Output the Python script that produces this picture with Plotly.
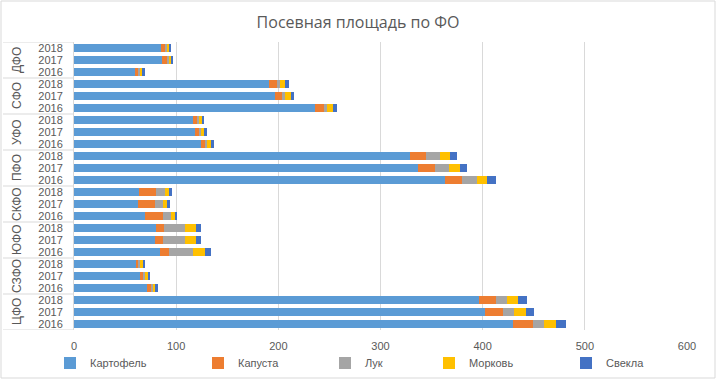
import plotly.graph_objects as go

# Data (bottom-up order as drawn by the category axis)
regions = ["ЦФО", "СЗФО", "ЮФО", "СКФО", "ПФО", "УФО", "СФО", "ДФО"]
years = ["2016", "2017", "2018"]

kartofel = [430.0, 402.4, 396.0, 71.8, 64.3, 60.4, 84.0, 79.2, 80.2, 69.4, 62.3, 63.6,
            363.5, 336.6, 328.8, 124.6, 118.1, 116.5, 235.6, 196.4, 191.2, 60.1, 85.7, 84.7]
kapusta = [18.8, 17.9, 16.9, 4.2, 3.9, 2.9, 8.8, 7.8, 7.4, 17.6, 17.2, 16.6,
           16.6, 16.5, 15.9, 4.2, 4.3, 4.2, 8.8, 7.4, 7.1, 3.5, 6.1, 4.9]
luk = [11.4, 10.7, 10.7, 1.2, 1.2, 1.6, 24.0, 22.1, 21.5, 7.7, 7.5, 8.4,
       14.3, 14.0, 13.6, 1.7, 1.6, 1.7, 2.9, 2.3, 3.3, 1.0, 1.0, 1.3]
morkov = [12.0, 11.4, 10.8, 2.3, 2.9, 2.6, 11.1, 10.4, 10.4, 3.9, 4.2, 4.2,
          10.0, 10.4, 9.8, 3.9, 3.9, 2.5, 6.5, 6.2, 4.8, 2.3, 2.3, 2.6]
svekla = [9.1, 8.1, 9.0, 2.3, 2.3, 2.3, 6.5, 5.1, 5.1, 2.7, 2.6, 2.9,
          8.4, 7.4, 7.1, 2.6, 1.9, 2.4, 3.6, 3.2, 3.6, 2.2, 1.9, 1.6]

series_names = ["Картофель", "Капуста", "Лук", "Морковь", "Свекла"]
series_values = [kartofel, kapusta, luk, morkov, svekla]
colors = ["#5B9BD5", "#ED7D31", "#A5A5A5", "#FFC000", "#4472C4"]

cats = [f"{r} {y}" for r in regions for y in years]
ticktext = [y for r in regions for y in years]

W, H = 716, 379
ml, mr, mt, mb = 74, 29, 42, 49
pw = W - ml - mr
ph = H - mt - mb

font_fam = "Liberation Sans, Arial, sans-serif"
text_col = "#595959"
line_col = "#D9D9D9"

# where each legend entry's text starts (px from the left of the chart)
legend_text_px = [89, 237, 364, 468, 605]
legend_names = ["legend", "legend2", "legend3", "legend4", "legend5"]

fig = go.Figure()
for name, vals, col, lg in zip(series_names, series_values, colors, legend_names):
    fig.add_trace(go.Bar(y=cats, x=vals, name=name, orientation="h", legend=lg,
                         showlegend=True,
                         marker=dict(color=col, line=dict(width=0))))

shapes = []
# group separators in the category label area
for i in range(len(regions) + 1):
    yb = i * len(years) - 0.5
    shapes.append(dict(type="line", xref="paper", yref="y",
                       x0=-(ml - 3) / pw, x1=0, y0=yb, y1=yb,
                       line=dict(color=line_col, width=1)))
# chart border
shapes.append(dict(type="rect", xref="paper", yref="paper",
                   x0=-(ml - 1) / pw, x1=1 + (mr - 1) / pw,
                   y0=-(mb - 1) / ph, y1=1 + (mt - 1) / ph,
                   line=dict(color=line_col, width=1)))

annotations = []
for i, r in enumerate(regions):
    annotations.append(dict(text=r, xref="paper", yref="y",
                            x=-(ml - 17) / pw, y=cats[i * 3 + 1],
                            showarrow=False, textangle=-90,
                            font=dict(family=font_fam, size=12, color=text_col),
                            xanchor="center", yanchor="middle"))

legend_layout = {}
for lg, tx in zip(legend_names, legend_text_px):
    legend_layout[lg] = dict(orientation="h", xref="container", x=(tx - 39) / W,
                             xanchor="left", yref="container", y=(H - 363) / H,
                             yanchor="middle", bgcolor="rgba(0,0,0,0)",
                             font=dict(family=font_fam, size=11, color=text_col))

fig.update_layout(
    width=W, height=H,
    margin=dict(l=ml, r=mr, t=mt, b=mb, autoexpand=False),
    paper_bgcolor="white", plot_bgcolor="white",
    barmode="stack", bargap=0.3, showlegend=True,
    title=dict(text="Посевная площадь по ФО", x=0.5, xref="container", xanchor="center",
               y=1 - 22 / H, yanchor="middle",
               font=dict(family="Open Sans, sans-serif", size=16, color=text_col)),
    xaxis=dict(range=[0, 600], dtick=100, showgrid=True, gridcolor=line_col, gridwidth=1,
               zeroline=False, showline=False, ticks="", automargin=False,
               ticklabelstandoff=8,
               tickfont=dict(family=font_fam, size=11, color=text_col)),
    yaxis=dict(type="category", categoryorder="array", categoryarray=cats,
               tickvals=cats, ticktext=ticktext, range=[-0.5, len(cats) - 0.5],
               showgrid=False, zeroline=False, showline=True, linecolor=line_col,
               ticks="", ticklabelstandoff=8, automargin=False,
               tickfont=dict(family=font_fam, size=11, color=text_col)),
    shapes=shapes, annotations=annotations,
    **legend_layout,
)

fig.write_html("out.html", config={"displayModeBar": False},
               post_script="document.body.style.margin='0';")
